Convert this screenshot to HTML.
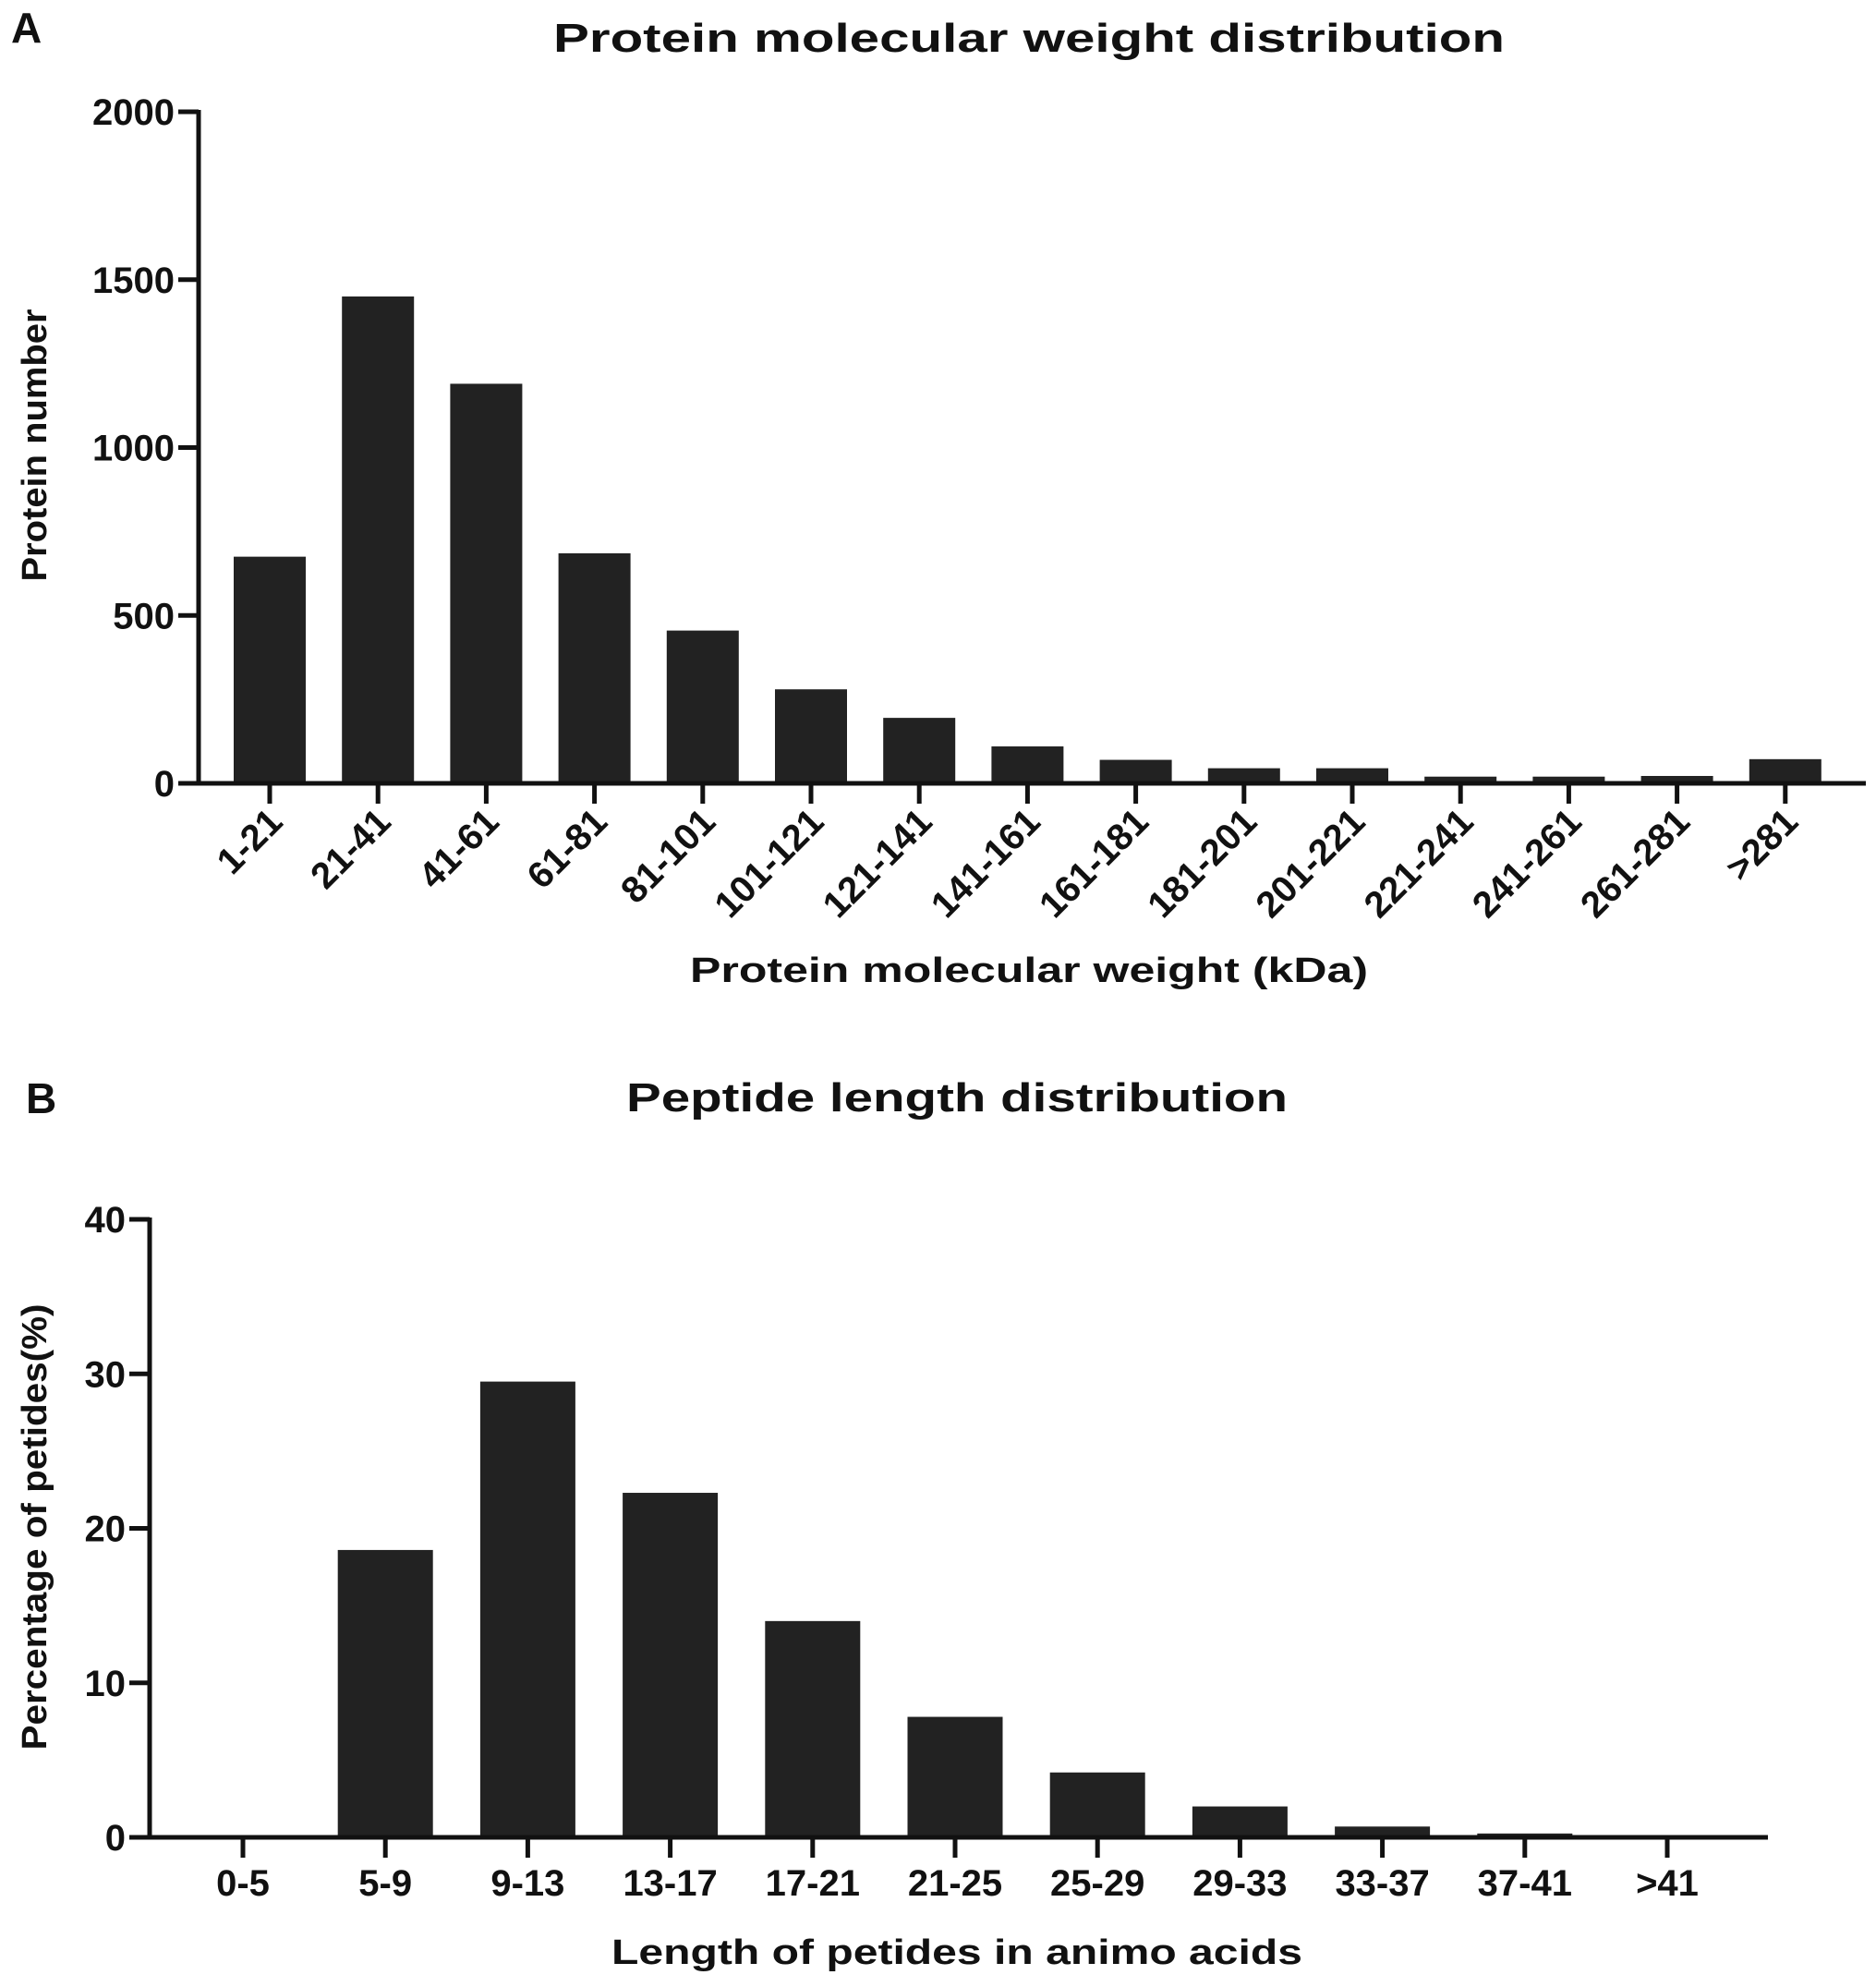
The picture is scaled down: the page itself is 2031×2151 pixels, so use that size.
<!DOCTYPE html>
<html><head><meta charset="utf-8"><style>
html,body{margin:0;padding:0;background:#fff;}
svg text{font-family:"Liberation Sans",Arial,sans-serif;font-weight:bold;fill:#111;}
</style></head><body>
<svg id="fig" width="2031" height="2146" viewBox="0 0 2031 2146" xmlns="http://www.w3.org/2000/svg">
<text x="12" y="46" font-size="46">A</text>
<text x="1114" y="56" font-size="44" text-anchor="middle" textLength="1030" lengthAdjust="spacingAndGlyphs">Protein molecular weight distribution</text>
<text x="28" y="1205" font-size="46">B</text>
<text x="1036" y="1203" font-size="44" text-anchor="middle" textLength="716" lengthAdjust="spacingAndGlyphs">Peptide length distribution</text>
<g id="chartA"></g>
<g id="chartB"></g>
</svg>
<script>
const catsA = ["1-21","21-41","41-61","61-81","81-101","101-121","121-141","141-161","161-181","181-201","201-221","221-241","241-261","261-281",">281"];
const valsA = [675,1450,1190,685,455,280,195,110,70,45,45,20,20,22,72];
const ticksA = [0,500,1000,1500,2000];
const catsB = ["0-5","5-9","9-13","13-17","17-21","21-25","25-29","29-33","33-37","37-41",">41"];
const valsB = [0,18.6,29.5,22.3,14,7.8,4.2,2.0,0.7,0.25,0];
const ticksB = [0,10,20,30,40];

const NS="http://www.w3.org/2000/svg";
function mk(tag,attrs,parent,text){const e=document.createElementNS(NS,tag);for(const k in attrs)e.setAttribute(k,attrs[k]);if(text!==undefined)e.textContent=text;parent.appendChild(e);return e;}

function draw(g,o){
  const yS=v=>o.y0-(v-o.ymin)/(o.ymax-o.ymin)*(o.y0-o.ytop);
  const xS=i=>o.x1+o.step*i;
  o.vals.forEach((v,i)=>{
    if(v<=0)return;
    const r=mk('rect',{x:xS(i)-o.bw/2,y:yS(v),width:o.bw,height:o.y0-yS(v),fill:'#222'},g);
    
    
  });
  const ya=mk('line',{x1:o.ax,y1:o.ytop-2,x2:o.ax,y2:o.y0+2.5,stroke:'#111','stroke-width':5},g);
  
  
  const xa=mk('line',{x1:o.ax-2.5,y1:o.y0,x2:o.xend,y2:o.y0,stroke:'#111','stroke-width':5},g);
  
  
  o.ticks.forEach(t=>{
    mk('line',{x1:o.ax-22,y1:yS(t),x2:o.ax,y2:yS(t),stroke:'#111','stroke-width':5},g);
    const tl=mk('text',{x:o.ax-26,y:yS(t)+14,'font-size':40,'text-anchor':'end'},g,String(t));
    
    
  });
  o.cats.forEach((c,i)=>{
    mk('line',{x1:xS(i),y1:o.y0,x2:xS(i),y2:o.y0+22,stroke:'#111','stroke-width':5},g);
    let t;
    if(o.rot){
      t=mk('text',{x:xS(i)+16,y:o.y0+44,'font-size':40,'text-anchor':'end',transform:`rotate(-45 ${xS(i)+16} ${o.y0+44})`},g,c);
    }else{
      t=mk('text',{x:xS(i),y:o.y0+63,'font-size':40,'text-anchor':'middle'},g,c);
    }
    
    
  });
  const xt=mk('text',{x:o.xtx,y:o.xty,'font-size':38,'text-anchor':'middle',textLength:o.xtw,lengthAdjust:'spacingAndGlyphs'},g,o.xtitle);
  
  
  const yt=mk('text',{x:o.ytx,y:o.yty,'font-size':38,'text-anchor':'middle',textLength:o.ytw,lengthAdjust:'spacingAndGlyphs',transform:`rotate(-90 ${o.ytx} ${o.yty})`},g,o.ytitle);
  
  
}
draw(document.getElementById('chartA'),{cats:catsA,vals:valsA,ticks:ticksA,ymin:0,ymax:2000,y0:848,ytop:121,ax:215,xend:2020,x1:292,step:117.2,bw:78,rot:true,
  xtitle:'Protein molecular weight (kDa)',xtx:1114,xty:1063,xtw:734,ytitle:'Protein number',ytx:50,yty:482,ytw:295});
draw(document.getElementById('chartB'),{cats:catsB,vals:valsB,ticks:ticksB,ymin:0,ymax:40,y0:1989,ytop:1320,ax:162,xend:1914,x1:263,step:154.2,bw:103,rot:false,
  xtitle:'Length of petides in animo acids',xtx:1036,xty:2126,xtw:748,ytitle:'Percentage of petides(%)',ytx:50,yty:1653,ytw:483});
</script>
</body></html>
